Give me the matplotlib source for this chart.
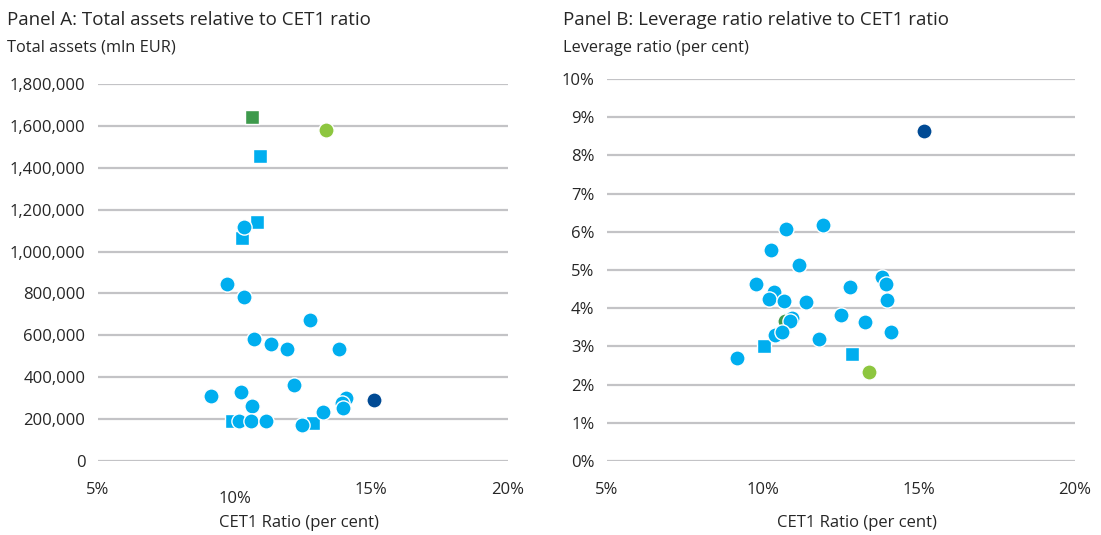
import matplotlib.pyplot as plt
from matplotlib.ticker import FuncFormatter

plt.rcParams['font.family'] = ['Open Sans', 'DejaVu Sans']

# Panel A: CET1 ratio (%) vs total assets (mln EUR)
a_circ_x = [10.35, 9.73, 10.35, 12.77, 10.71, 11.34, 11.92, 13.83, 12.18, 9.14,
            10.24, 10.64, 14.08, 13.94, 13.97, 13.24, 10.16, 10.60, 11.15, 12.47]
a_circ_y = [1117000, 845000, 783000, 673000, 582000, 559000, 535000, 535000, 363000, 310000,
            329000, 263000, 301000, 277000, 253000, 234000, 191000, 191000, 191000, 172000]
a_sq_x = [10.93, 10.82, 10.27, 9.91, 12.88]
a_sq_y = [1456000, 1141000, 1065000, 191000, 181000]
a_dkgreen = (10.64, 1642000)
a_ltgreen = (13.35, 1580000)
a_navy = (15.11, 291000)

# Panel B: CET1 ratio (%) vs leverage ratio (%)
b_circ_x = [11.92, 10.74, 10.26, 11.15, 9.78, 13.81, 13.94, 12.79, 10.35, 10.19, 10.67,
            11.38, 13.97, 12.50, 10.93, 10.87, 13.27, 14.10, 11.81, 10.38, 10.61, 9.17]
b_circ_y = [6.18, 6.07, 5.52, 5.13, 4.63, 4.82, 4.63, 4.55, 4.42, 4.24, 4.19,
            4.16, 4.21, 3.82, 3.74, 3.66, 3.64, 3.38, 3.19, 3.30, 3.38, 2.70]
b_sq_x = [10.03, 12.85]
b_sq_y = [3.01, 2.80]
b_dkgreen = (10.72, 3.66)
b_ltgreen = (13.40, 2.33)
b_navy = (15.16, 8.64)

blue = '#00AEEF'
navy = '#004A94'
dkgreen = '#3E9A4C'
ltgreen = '#8DC63F'
grid_c = '#C3C3C6'
txt_c = '#262626'

fig = plt.figure(figsize=(11.01, 5.35), dpi=100)
axA = fig.add_axes([98/1101, 1-461/535, 410/1101, 377/535])
axB = fig.add_axes([607/1101, 1-461/535, 468/1101, 382/535])


def style(ax):
    for s in ax.spines.values():
        s.set_visible(False)
    ax.set_xlim(5, 20)
    ax.set_xticks([5, 10, 15, 20])
    ax.xaxis.set_major_formatter(FuncFormatter(lambda v, p: '%d%%' % v))
    ax.tick_params(axis='both', length=0, labelsize=12, colors=txt_c)
    ax.tick_params(axis='x', pad=15)
    ax.tick_params(axis='y', pad=9)
    ax.yaxis.grid(True, color=grid_c, lw=1.6)
    ax.set_axisbelow(True)
    ax.set_xlabel('CET1 Ratio (per cent)', fontsize=12, color=txt_c)


def draw(ax, cx, cy, sx, sy, dg, lg, nv, dg_square):
    kw = dict(edgecolors='white', linewidths=1, clip_on=False)
    # dark green drawn first so overlapping blue markers sit on top
    ax.scatter([dg[0]], [dg[1]], s=110 if dg_square else 120,
               marker='s' if dg_square else 'o', color=dkgreen, zorder=2.5, **kw)
    ax.scatter(sx, sy, s=110, marker='s', color=blue, zorder=3, **kw)
    ax.scatter(cx, cy, s=120, marker='o', color=blue, zorder=3, **kw)
    ax.scatter([lg[0]], [lg[1]], s=120, marker='o', color=ltgreen, zorder=3, **kw)
    ax.scatter([nv[0]], [nv[1]], s=120, marker='o', color=navy, zorder=3, **kw)


# Panel A
style(axA)
axA.set_ylim(0, 1800000)
axA.set_yticks(range(0, 1800001, 200000))
axA.yaxis.set_major_formatter(FuncFormatter(lambda v, p: '{:,.0f}'.format(v)))
draw(axA, a_circ_x, a_circ_y, a_sq_x, a_sq_y, a_dkgreen, a_ltgreen, a_navy, True)
axA.get_xticklabels()[1].set_y(-0.024)

# Panel B
style(axB)
axB.set_ylim(0, 10)
axB.set_yticks(range(0, 11))
axB.yaxis.set_major_formatter(FuncFormatter(lambda v, p: '%d%%' % v))
draw(axB, b_circ_x, b_circ_y, b_sq_x, b_sq_y, b_dkgreen, b_ltgreen, b_navy, False)
axA.xaxis.set_label_coords(0.49, -0.143)
axB.xaxis.set_label_coords(0.535, -0.141)

fig.text(7/1101, 1-20/535, 'Panel A: Total assets relative to CET1 ratio', fontsize=13.5,
         color=txt_c, va='center', ha='left')
fig.text(7/1101, 1-48/535, 'Total assets (mln EUR)', fontsize=11.8,
         color=txt_c, va='center', ha='left')
fig.text(563/1101, 1-20/535, 'Panel B: Leverage ratio relative to CET1 ratio', fontsize=13.5,
         color=txt_c, va='center', ha='left')
fig.text(563/1101, 1-48/535, 'Leverage ratio (per cent)', fontsize=11.8,
         color=txt_c, va='center', ha='left')

fig.savefig('out.png', dpi=100)
